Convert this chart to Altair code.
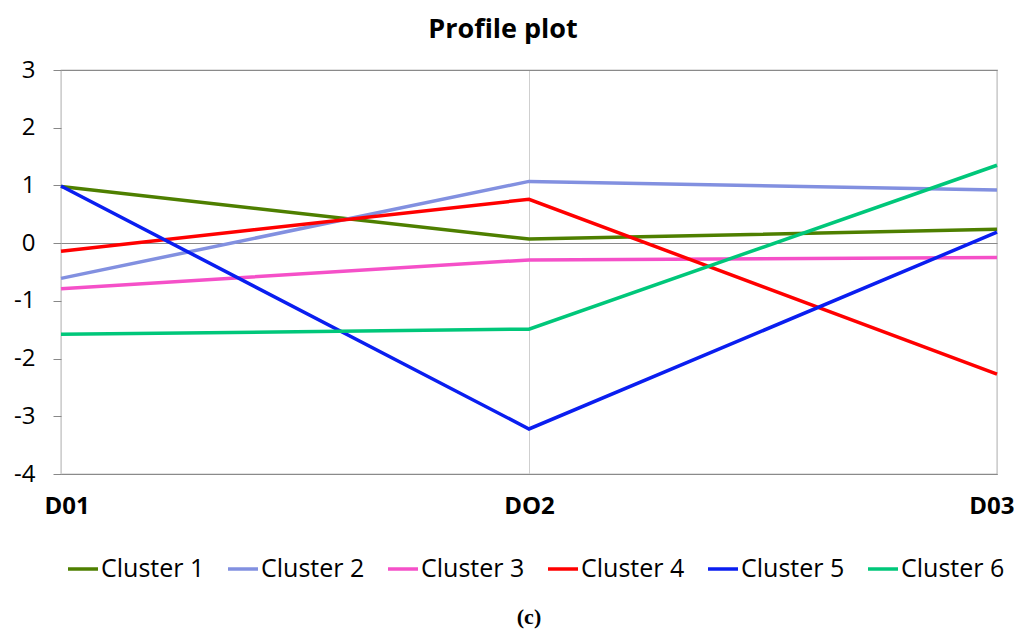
import altair as alt
import pandas as pd

categories = ["D01", "DO2", "D03"]
clusters = ["Cluster 1", "Cluster 2", "Cluster 3", "Cluster 4", "Cluster 5", "Cluster 6"]
cluster1 = [0.98, 0.07, 0.24]
cluster2 = [-0.61, 1.07, 0.92]
cluster3 = [-0.79, -0.29, -0.25]
cluster4 = [-0.14, 0.76, -2.27]
cluster5 = [0.99, -3.22, 0.19]
cluster6 = [-1.58, -1.49, 1.35]
colors = ["#4E7F00", "#8290E0", "#F550C8", "#FF0000", "#0A1EF0", "#00C77A"]
y_ticks = [-4, -3, -2, -1, 0, 1, 2, 3]

series = [cluster1, cluster2, cluster3, cluster4, cluster5, cluster6]
rows = []
for name, vals in zip(clusters, series):
    for c, v in zip(categories, vals):
        rows.append({"cluster": name, "dim": c, "value": v})
df = pd.DataFrame(rows)

FONT = "Open Sans"

lines = alt.Chart(df).mark_line(strokeWidth=3.5).encode(
    x=alt.X("dim:N", sort=categories, scale=alt.Scale(type="point", padding=0),
            axis=alt.Axis(title=None, labelAngle=0, labelFont=FONT, labelFontSize=24,
                          labelFontWeight="bold", labelColor="black", labelPadding=20,
                          labelFlush=True, labelFlushOffset=17,
                          tickSize=0, domain=False, grid=True, gridColor="#cfcfcf",
                          gridWidth=1)),
    y=alt.Y("value:Q", scale=alt.Scale(domain=[-4, 3], nice=False, zero=False),
            axis=alt.Axis(title=None, values=y_ticks, labelFont=FONT, labelFontSize=24,
                          labelExpr="datum.value + ''",
                          labelColor="black", labelPadding=18, tickSize=8,
                          tickColor="#888888", domain=False,
                          grid=True,
                          gridColor="#8a8a8a",
                          gridOpacity={"condition": {"test": "datum.value == 0 || datum.value == 3 || datum.value == -4", "value": 1}, "value": 0},
                          gridWidth=1.2)),
    color=alt.Color("cluster:N", sort=clusters,
                    scale=alt.Scale(domain=clusters, range=colors),
                    legend=alt.Legend(title=None, orient="none", direction="horizontal",
                                      legendX=5, legendY=482,
                                      symbolType="stroke", symbolSize=900,
                                      symbolStrokeWidth=3.5, labelFont=FONT,
                                      labelFontSize=25, labelColor="black",
                                      labelOffset=1, columnPadding=16)),
    order=alt.Order("dim_order:Q"),
).transform_calculate(
    dim_order="indexof(['D01','DO2','D03'], datum.dim)"
)

caption = alt.Chart(pd.DataFrame({"t": ["(c)"]})).mark_text(
    font="Liberation Serif", fontSize=22, fontWeight="bold", color="black"
).encode(x=alt.value(468), y=alt.value(547), text="t:N")

chart = alt.layer(lines, caption).properties(
    width=936, height=404,
    title=alt.TitleParams("Profile plot", font=FONT, fontSize=27, fontWeight="bold",
                          color="black", offset=14, anchor="middle", dx=-26),
    autosize=alt.AutoSizeParams(type="none"),
    padding={"left": 53, "top": 62, "right": 17, "bottom": 156},
).configure_view(stroke="#8a8a8a", strokeWidth=1.2)

chart.save("out.html", embed_options={"renderer": "svg", "actions": False})
